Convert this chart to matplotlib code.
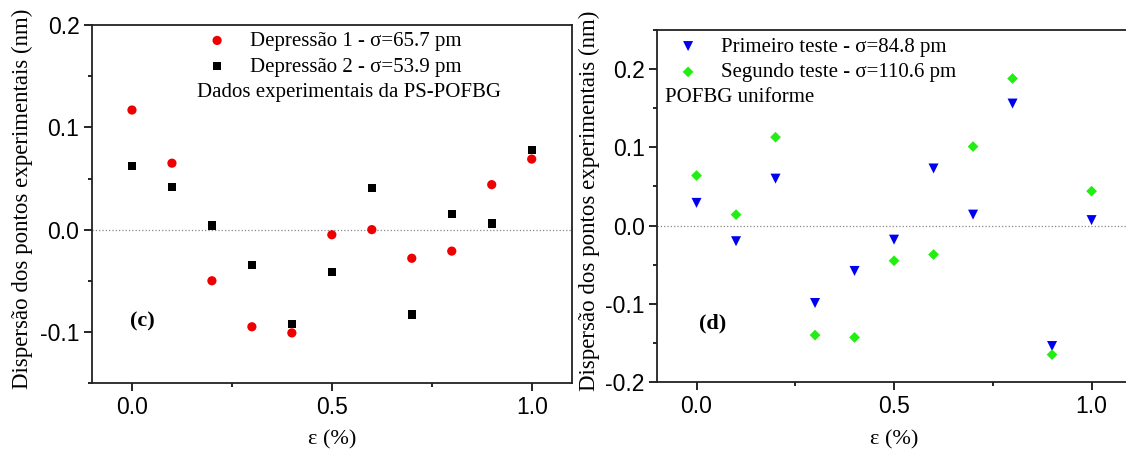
import matplotlib
matplotlib.use('Agg')
import matplotlib.pyplot as plt
from matplotlib.ticker import MultipleLocator, FormatStrFormatter

# strain values (%)
strain = [0.0, 0.1, 0.2, 0.3, 0.4, 0.5, 0.6, 0.7, 0.8, 0.9, 1.0]

# panel (c) - PS-POFBG
depressao1 = [0.117, 0.065, -0.050, -0.095, -0.101, -0.005, 0.000, -0.028, -0.021, 0.044, 0.069]
depressao2 = [0.062, 0.042, 0.004, -0.035, -0.092, -0.041, 0.041, -0.083, 0.015, 0.006, 0.078]

# panel (d) - uniform POFBG
primeiro = [0.029, -0.020, 0.060, -0.099, -0.058, -0.018, 0.073, 0.014, 0.156, -0.154, 0.007]
segundo = [0.064, 0.014, 0.113, -0.140, -0.143, -0.045, -0.037, 0.101, 0.188, -0.165, 0.044]

serif = 'Liberation Serif'
sans = 'Liberation Sans'

fig = plt.figure(figsize=(11.26, 4.53), dpi=100)
ax1 = fig.add_axes([0.0817, 0.1545, 0.426, 0.790])
ax2 = fig.add_axes([0.5835, 0.1567, 0.421, 0.777])


def style_axis(ax, ylim):
    ax.set_xlim(-0.1, 1.1)
    ax.set_ylim(*ylim)
    ax.xaxis.set_major_locator(MultipleLocator(0.5))
    ax.xaxis.set_minor_locator(MultipleLocator(0.25))
    ax.yaxis.set_major_locator(MultipleLocator(0.1))
    ax.yaxis.set_minor_locator(MultipleLocator(0.05))
    ax.xaxis.set_major_formatter(FormatStrFormatter('%.1f'))
    ax.yaxis.set_major_formatter(FormatStrFormatter('%.1f'))
    ax.tick_params(which='both', direction='out', top=False, right=False, width=1.2)
    ax.tick_params(which='major', length=5.5, labelsize=16.5)
    ax.tick_params(which='minor', length=3)
    for lab in ax.get_xticklabels() + ax.get_yticklabels():
        lab.set_fontfamily(sans)
    for s in ax.spines.values():
        s.set_linewidth(1.3)
        s.set_color('#222222')
    ax.axhline(0, color='#888888', linestyle=':', linewidth=0.9, zorder=0)
    ax.set_xlabel('ε (%)', fontfamily=serif, fontsize=16)
    ax.set_ylabel('Dispersão dos pontos experimentais (nm)', fontfamily=serif, fontsize=16.5)


# panel (c)
ax1.scatter(strain, depressao1, marker='o', s=44, color='#ee0000', edgecolors='none',
            label='Depressão 1 - σ=65.7 pm', zorder=3)
ax1.scatter(strain, depressao2, marker='s', s=34, color='black', edgecolors='none',
            label='Depressão 2 - σ=53.9 pm', zorder=3)
style_axis(ax1, (-0.15, 0.2))
ax1.legend(loc='upper left', bbox_to_anchor=(0.2, 1.006), frameon=False,
           prop={'family': serif, 'size': 15}, handletextpad=0.6,
           labelspacing=0.3, borderaxespad=0)
ax1.text(0.535, 0.813, 'Dados experimentais da PS-POFBG', transform=ax1.transAxes,
         fontfamily=serif, fontsize=15, ha='center', va='center')
ax1.text(-0.005, -0.09, '(c)', fontfamily=serif, fontsize=16, fontweight='bold',
         ha='left', va='center')
ax1.yaxis.set_label_coords(-0.123, 0.514)
ax1.xaxis.set_label_coords(0.5, -0.131)

# panel (d)
ax2.scatter(strain, primeiro, marker='v', s=52, color='#0000ee', edgecolors='none',
            label='Primeiro teste - σ=84.8 pm', zorder=3)
ax2.scatter(strain, segundo, marker='D', s=30, color='#22ee11', edgecolors='none',
            label='Segundo teste - σ=110.6 pm', zorder=3)
style_axis(ax2, (-0.2, 0.25))
ax2.legend(loc='upper left', bbox_to_anchor=(0.004, 1.004), frameon=False,
           prop={'family': serif, 'size': 15}, handletextpad=0.6,
           labelspacing=0.3, borderaxespad=0)
ax2.text(0.017, 0.807, 'POFBG uniforme', transform=ax2.transAxes,
         fontfamily=serif, fontsize=15, ha='left', va='center')
ax2.text(0.005, -0.125, '(d)', fontfamily=serif, fontsize=16, fontweight='bold',
         ha='left', va='center')
ax2.yaxis.set_label_coords(-0.12, 0.514)
ax2.xaxis.set_label_coords(0.5, -0.136)

fig.savefig('out.png', dpi=100)
